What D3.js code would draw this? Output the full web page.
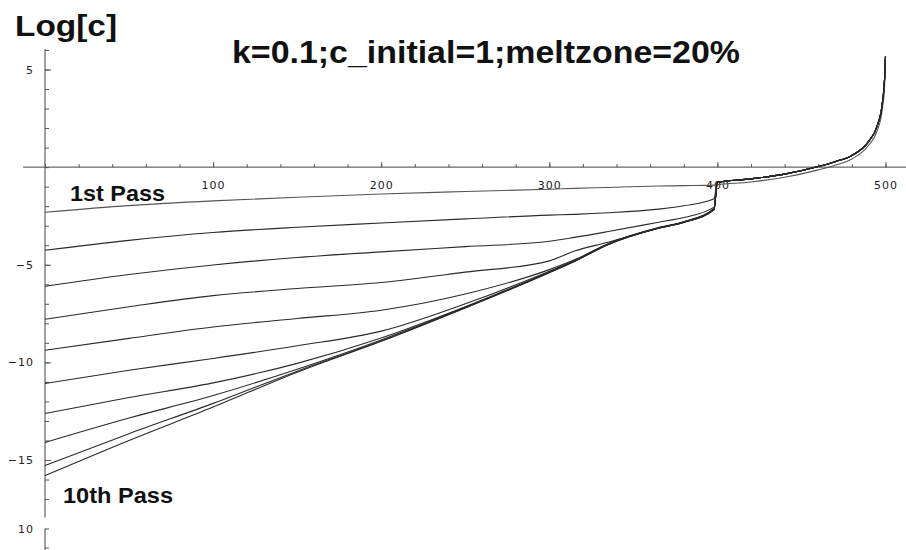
<!DOCTYPE html>
<html>
<head>
<meta charset="utf-8">
<script src="https://cdn.jsdelivr.net/npm/d3@7/dist/d3.min.js"></script>
<style>
  body { margin: 0; background: #fff; }
  svg { display: block; }
  .tick text { font-family: "DejaVu Sans", sans-serif; font-size: 11px; letter-spacing: 1px; fill: #222; }
  .tick line { stroke: #555; }
  .big { font-family: "Liberation Sans", Arial, sans-serif; font-weight: bold; fill: #111; }
</style>
</head>
<body>
<div id="chart"></div>
<script>
// positions along the bar (0..400 part, zone passes) and the last-zone tail
var xPos = [0, 50, 100, 150, 200, 250, 300, 315, 335, 365, 380, 398];
var pass1  = [-2.31, -1.97, -1.73, -1.54, -1.38, -1.25, -1.13, -1.09, -1.04, -0.97, -0.95, -0.92];
var pass2  = [-4.26, -3.75, -3.35, -3.08, -2.86, -2.65, -2.46, -2.42, -2.34, -2.15, -1.98, -1.62];
var pass3  = [-6.10, -5.50, -5.01, -4.63, -4.34, -4.07, -3.80, -3.60, -3.30, -2.82, -2.58, -2.05];
var pass4  = [-7.79, -7.15, -6.58, -6.22, -5.91, -5.38, -4.80, -4.30, -3.85, -3.12, -2.80, -2.12];
var pass5  = [-9.38, -8.77, -8.19, -7.75, -7.33, -6.50, -5.25, -4.75, -3.92, -3.10, -2.80, -2.15];
var pass6  = [-11.08, -10.40, -9.80, -9.15, -8.40, -7.00, -5.33, -4.78, -3.94, -3.11, -2.81, -2.16];
var pass7  = [-12.62, -11.80, -11.05, -10.05, -8.75, -7.15, -5.37, -4.80, -3.95, -3.12, -2.82, -2.17];
var pass8  = [-14.10, -12.85, -11.70, -10.35, -8.85, -7.18, -5.39, -4.81, -3.96, -3.12, -2.82, -2.17];
var pass9  = [-15.28, -13.65, -12.10, -10.45, -8.90, -7.20, -5.40, -4.82, -3.96, -3.13, -2.83, -2.18];
var pass10 = [-15.80, -14.00, -12.29, -10.50, -8.92, -7.21, -5.41, -4.83, -3.97, -3.13, -2.83, -2.18];
var passes = [pass1, pass2, pass3, pass4, pass5, pass6, pass7, pass8, pass9, pass10];

var endX     = [400, 420, 440, 460, 470, 480, 490, 495, 498, 499.5, 500];
var endMain  = [-0.78, -0.60, -0.36, 0.03, 0.28, 0.60, 1.32, 2.10, 3.20, 4.60, 5.66];
var endFirst = [-0.90, -0.76, -0.52, -0.14, 0.10, 0.42, 1.12, 1.85, 2.90, 4.20, 5.40];

var xMajor = [100, 200, 300, 400, 500];
var xMinor = d3.range(0, 501, 20);
var yMajor = [-15, -10, -5, 5];
var yMinor = d3.range(-17, 7, 1);

var W = 906, H = 550;
var svg = d3.select("#chart").append("svg")
    .attr("width", W)
    .attr("height", H);

var x = d3.scaleLinear().domain([0, 500]).range([45, 885.5]);
var y = d3.scaleLinear().domain([-15, 5]).range([460, 69.5]);

// axis lines (Mathematica style: x axis through y=0)
svg.append("line")
    .attr("x1", x(-13)).attr("x2", W)
    .attr("y1", y(0)).attr("y2", y(0))
    .attr("stroke", "#444");
svg.append("line")
    .attr("x1", x(0)).attr("x2", x(0))
    .attr("y1", y(6.05)).attr("y2", y(-17.95))
    .attr("stroke", "#444");

// x ticks
svg.append("g")
    .attr("transform", "translate(0," + y(0) + ")")
    .call(d3.axisBottom(x).tickValues(xMinor).tickSize(-3).tickFormat(""))
    .select(".domain").remove();
svg.append("g")
    .attr("transform", "translate(0," + y(0) + ")")
    .call(d3.axisBottom(x).tickValues(xMajor).tickSize(-5).tickPadding(14).tickFormat(d3.format("d")))
    .select(".domain").remove();

// y ticks
svg.append("g")
    .attr("transform", "translate(" + x(0) + ",0)")
    .call(d3.axisLeft(y).tickValues(yMinor).tickSize(-4).tickFormat(""))
    .select(".domain").remove();
svg.append("g")
    .attr("transform", "translate(" + x(0) + ",0)")
    .call(d3.axisLeft(y).tickValues(yMajor).tickSize(-6).tickPadding(11).tickFormat(d3.format("d")))
    .select(".domain").remove();

// stray axis fragment at the bottom of the original plot
var yStray = d3.scaleLinear().domain([10, 9]).range([528.5, 547.5]);
var stray = svg.append("g")
    .attr("transform", "translate(" + x(0) + ",0)")
    .call(d3.axisLeft(yStray).tickValues([10, 9]).tickSize(-4).tickPadding(11)
      .tickFormat(function(d) { return d === 10 ? "10" : ""; }));
stray.select(".domain").remove();
stray.append("line")
    .attr("x1", 0).attr("x2", 0)
    .attr("y1", yStray(10)).attr("y2", H)
    .attr("stroke", "#444");

// curves
var line = d3.line()
    .x(function(d) { return x(d[0]); })
    .y(function(d) { return y(d[1]); })
    .curve(d3.curveMonotoneX);

passes.forEach(function(vals, i) {
  var tail = i === 0 ? endFirst : endMain;
  var pts = xPos.map(function(v, j) { return [v, vals[j]]; })
      .concat(endX.map(function(v, j) { return [v, tail[j]]; }));
  svg.append("path")
      .attr("d", line(pts))
      .attr("fill", "none")
      .attr("stroke", i === 0 ? "#555" : "#2a2a2a")
      .attr("stroke-width", 1.1);
});

// texts
svg.append("text").attr("class", "big")
    .attr("x", 15).attr("y", 35.5)
    .attr("font-size", 30)
    .attr("textLength", 102).attr("lengthAdjust", "spacingAndGlyphs")
    .text("Log[c]");
svg.append("text").attr("class", "big")
    .attr("x", 232).attr("y", 63)
    .attr("font-size", 32)
    .attr("textLength", 508).attr("lengthAdjust", "spacingAndGlyphs")
    .text("k=0.1;c_initial=1;meltzone=20%");
svg.append("text").attr("class", "big")
    .attr("x", 70).attr("y", 200.5)
    .attr("font-size", 22)
    .attr("textLength", 95).attr("lengthAdjust", "spacingAndGlyphs")
    .text("1st Pass");
svg.append("text").attr("class", "big")
    .attr("x", 63).attr("y", 502.5)
    .attr("font-size", 22)
    .attr("textLength", 110).attr("lengthAdjust", "spacingAndGlyphs")
    .text("10th Pass");
</script>
</body>
</html>
